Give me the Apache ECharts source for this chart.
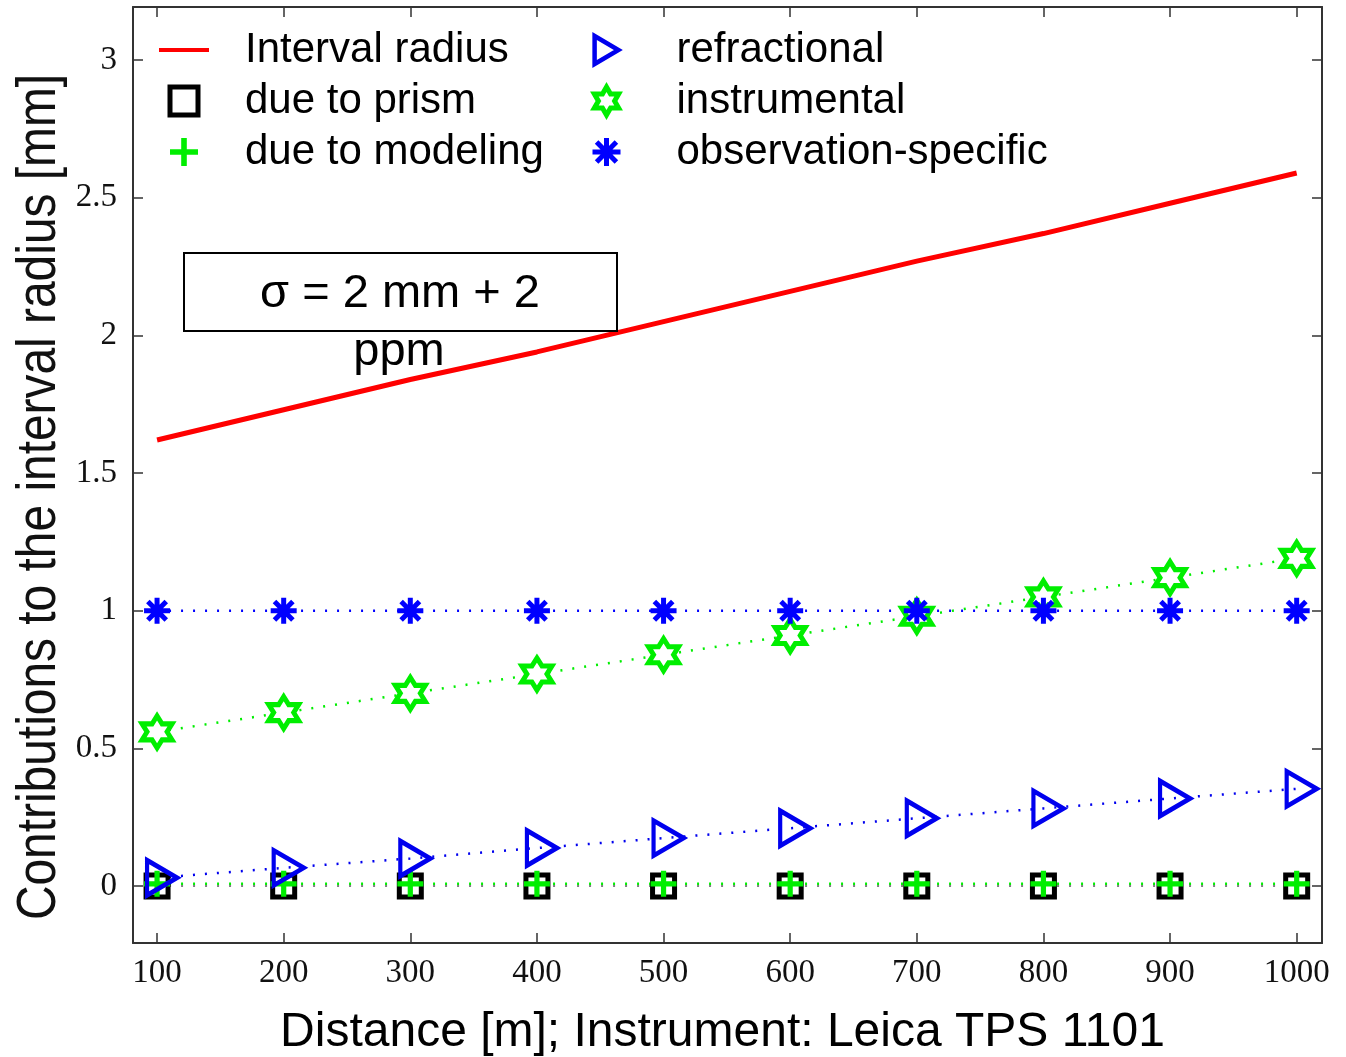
<!DOCTYPE html>
<html>
<head>
<meta charset="utf-8">
<script src="https://cdn.jsdelivr.net/npm/echarts@6/dist/echarts.min.js"></script>
<style>
  html, body { margin: 0; padding: 0; background: #fff; }
  #chart { width: 1346px; height: 1057px; }
</style>
</head>
<body>
<div id="chart"></div>
<script>
// distances [m]
const distances = [100, 200, 300, 400, 500, 600, 700, 800, 900, 1000];
const xTicks = [100, 200, 300, 400, 500, 600, 700, 800, 900, 1000];
const yTicks = [0, 0.5, 1, 1.5, 2, 2.5, 3];

// contributions [mm]
const intervalRadius = [1.62, 1.73, 1.84, 1.94, 2.05, 2.16, 2.27, 2.37, 2.48, 2.59];
const dueToPrism = [0, 0, 0, 0, 0, 0, 0, 0, 0, 0];
const dueToModeling = [0.008, 0.008, 0.008, 0.008, 0.008, 0.008, 0.008, 0.008, 0.008, 0.008];
const refractional = [0.03, 0.066, 0.10, 0.138, 0.174, 0.21, 0.246, 0.282, 0.318, 0.353];
const instrumental = [0.56, 0.63, 0.70, 0.77, 0.84, 0.91, 0.98, 1.05, 1.12, 1.19];
const observationSpecific = [1, 1, 1, 1, 1, 1, 1, 1, 1, 1];

const pairs = (ys) => distances.map((d, i) => [d, ys[i]]);

const lineIcon = 'path://M0,0H50V4H0Z';
const squarePath = 'path://M0,0H10V10H0Z';
const plusPath = 'path://M-2,-10H2V-2H10V2H2V10H-2V2H-10V-2H-2Z';
const trianglePath = 'path://M0,0L17,10L0,20Z';
const hexagramPath = 'path://M0,-10L2.887,-5L8.66,-5L5.774,0L8.66,5L2.887,5L0,10L-2.887,5L-8.66,5L-5.774,0L-8.66,-5L-2.887,-5Z';
const asteriskPath = 'path://M0,-10V10M-10,0H10M-7.07,-7.07L7.07,7.07M-7.07,7.07L7.07,-7.07';

const sans = 'Liberation Sans, Arial, sans-serif';
const serif = 'Liberation Serif, Times New Roman, serif';
const dotted = [2, 10];

const squareStyle = { color: '#fff', borderColor: '#000', borderWidth: 5 };
const plusStyle = { color: '#00ee00' };
const triangleStyle = { color: 'rgba(255,255,255,0)', borderColor: '#0000ee', borderWidth: 4.5 };
const starStyle = { color: '#fff', borderColor: '#00ee00', borderWidth: 5 };
const asteriskStyle = { color: 'rgba(0,0,255,0)', borderColor: '#0000ff', borderWidth: 5 };

const chart = echarts.init(document.getElementById('chart'));

const axisCommon = {
  axisLine: { show: true, onZero: false, lineStyle: { color: '#333', width: 2 } },
  axisTick: { show: true, inside: true, length: 10, lineStyle: { color: '#333', width: 1.5 } },
  splitLine: { show: false }
};

const option = {
  animation: false,
  backgroundColor: '#fff',
  grid: { left: 133, right: 24, top: 7, bottom: 114, outerBoundsMode: 'none', containLabel: false },
  xAxis: [
    {
      type: 'value', min: 81, max: 1020, position: 'bottom',
      ...axisCommon,
      axisTick: { ...axisCommon.axisTick, customValues: xTicks },
      axisLabel: {
        customValues: xTicks, margin: 14, fontSize: 33, fontFamily: serif, color: '#111',
        formatter: (v) => String(v)
      },
      name: 'Distance [m]; Instrument: Leica TPS 1101',
      nameLocation: 'middle', nameGap: 66,
      nameTextStyle: { fontSize: 48, fontFamily: sans, color: '#000', padding: [0, 10, 0, 0] }
    },
    {
      type: 'value', min: 81, max: 1020, position: 'top',
      ...axisCommon,
      axisTick: { ...axisCommon.axisTick, customValues: xTicks },
      axisLabel: { show: false }
    }
  ],
  yAxis: [
    {
      type: 'value', min: -0.207, max: 3.193, position: 'left',
      ...axisCommon,
      axisTick: { ...axisCommon.axisTick, customValues: yTicks },
      axisLabel: { customValues: yTicks, margin: 16, fontSize: 33, fontFamily: serif, color: '#111' }
    },
    {
      type: 'value', min: -0.207, max: 3.193, position: 'right',
      ...axisCommon,
      axisTick: { ...axisCommon.axisTick, customValues: yTicks },
      axisLabel: { show: false }
    }
  ],
  legend: [
    {
      left: 159, top: 29, orient: 'vertical', padding: 0,
      itemWidth: 50, itemHeight: 28, itemGap: 9, selectedMode: false,
      textStyle: { fontSize: 42, lineHeight: 42, fontFamily: sans, color: '#000', padding: [0, 0, 0, 31] },
      data: [
        { name: 'Interval radius', icon: lineIcon },
        { name: 'due to prism', icon: squarePath, itemStyle: squareStyle },
        { name: 'due to modeling', icon: plusPath, itemStyle: plusStyle }
      ]
    },
    {
      left: 590, top: 29, orient: 'vertical', padding: 0,
      itemWidth: 50, itemHeight: 28, itemGap: 9, selectedMode: false,
      textStyle: { fontSize: 42, lineHeight: 42, fontFamily: sans, color: '#000', padding: [0, 0, 0, 40] },
      data: [
        { name: 'refractional', icon: trianglePath, itemStyle: triangleStyle },
        { name: 'instrumental', icon: hexagramPath, itemStyle: starStyle },
        { name: 'observation-specific', icon: asteriskPath, itemStyle: asteriskStyle }
      ]
    }
  ],
  graphic: [
    {
      type: 'text', x: 40, y: 497, rotation: Math.PI / 2, scaleX: 0.855,
      style: {
        text: 'Contributions to the interval radius [mm]',
        font: '56px Liberation Sans, Arial, sans-serif',
        fill: '#111', textAlign: 'center', textVerticalAlign: 'middle'
      }
    },
    {
      type: 'rect', left: 183, top: 252, z: 10,
      shape: { width: 433, height: 78 },
      style: { fill: '#fff', stroke: '#000', lineWidth: 2 }
    },
    {
      type: 'text', x: 400, y: 294, z: 11,
      style: {
        text: 'σ = 2 mm + 2', font: '47px Liberation Sans, Arial, sans-serif',
        fill: '#000', textAlign: 'center', textVerticalAlign: 'middle'
      }
    },
    {
      type: 'text', x: 399, y: 352, z: 11,
      style: {
        text: 'ppm', font: '47px Liberation Sans, Arial, sans-serif',
        fill: '#000', textAlign: 'center', textVerticalAlign: 'middle'
      }
    }
  ],
  series: [
    {
      name: 'Interval radius', type: 'line', data: pairs(intervalRadius),
      symbol: 'none', itemStyle: { color: '#ff0000' },
      lineStyle: { color: '#ff0000', width: 5 }
    },
    {
      name: 'due to prism', type: 'line', data: pairs(dueToPrism),
      symbol: squarePath, symbolSize: 22,
      itemStyle: squareStyle,
      lineStyle: { color: '#000', width: 2, type: dotted, opacity: 0.5 }
    },
    {
      name: 'due to modeling', type: 'line', data: pairs(dueToModeling),
      symbol: plusPath, symbolSize: 26,
      itemStyle: plusStyle,
      lineStyle: { color: '#00ee00', width: 2.5, type: dotted }
    },
    {
      name: 'refractional', type: 'line', data: pairs(refractional),
      symbol: trianglePath, symbolSize: [30, 35], symbolOffset: [5, 0],
      itemStyle: triangleStyle,
      lineStyle: { color: '#0000ee', width: 2.5, type: dotted }
    },
    {
      name: 'instrumental', type: 'line', data: pairs(instrumental),
      symbol: hexagramPath, symbolSize: [30, 32],
      itemStyle: starStyle,
      lineStyle: { color: '#00ee00', width: 2.5, type: dotted }
    },
    {
      name: 'observation-specific', type: 'line', data: pairs(observationSpecific),
      symbol: asteriskPath, symbolSize: 26,
      itemStyle: asteriskStyle,
      lineStyle: { color: '#0000ff', width: 2.5, type: dotted }
    }
  ]
};

chart.setOption(option);
window.addEventListener('resize', function () {
  chart.resize();
});
</script>
</body>
</html>
